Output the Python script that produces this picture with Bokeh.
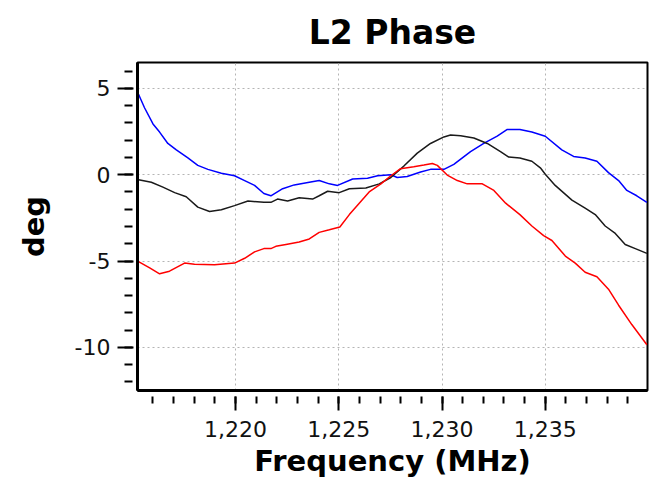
from bokeh.plotting import figure
from bokeh.models import Range1d, SingleIntervalTicker, NumeralTickFormatter
from bokeh.embed import file_html
from bokeh.resources import INLINE

# Frequency (MHz) / phase (deg) samples
blue_f = [1215.30, 1215.59, 1216.00, 1216.32, 1216.72, 1217.13, 1217.69, 1218.17, 1218.66, 1219.31,
          1219.95, 1220.44, 1220.92, 1221.37, 1221.71, 1222.28, 1222.84, 1223.57, 1224.05, 1224.54,
          1224.94, 1225.67, 1226.39, 1226.88, 1227.52, 1227.83, 1228.31, 1228.96, 1229.44, 1230.09,
          1230.57, 1231.38, 1232.02, 1232.67, 1233.16, 1233.77, 1234.35, 1235.00, 1235.80, 1236.37,
          1236.93, 1237.50, 1238.06, 1238.55, 1238.95, 1239.43, 1239.92]
blue_v = [4.66, 3.88, 2.94, 2.47, 1.81, 1.44, 0.97, 0.54, 0.31, 0.09,
          -0.06, -0.34, -0.62, -1.09, -1.22, -0.81, -0.59, -0.44, -0.34, -0.53,
          -0.62, -0.25, -0.21, -0.06, 0.00, -0.16, -0.10, 0.16, 0.31, 0.31,
          0.60, 1.34, 1.81, 2.23, 2.62, 2.62, 2.47, 2.23, 1.44, 1.06,
          0.97, 0.78, 0.12, -0.34, -0.91, -1.22, -1.60]

black_f = [1215.30, 1215.92, 1216.48, 1217.05, 1217.61, 1218.17, 1218.74, 1219.31, 1219.95, 1220.60,
           1221.37, 1221.71, 1222.03, 1222.52, 1223.08, 1223.73, 1224.05, 1224.46, 1225.02, 1225.51,
           1226.31, 1226.96, 1227.52, 1228.15, 1228.80, 1229.44, 1230.09, 1230.41, 1230.90, 1231.54,
           1232.19, 1232.83, 1233.23, 1233.77, 1234.35, 1234.76, 1235.00, 1235.48, 1236.29, 1236.93,
           1237.42, 1237.90, 1238.39, 1238.87, 1239.36, 1239.92]
black_v = [-0.29, -0.44, -0.72, -1.04, -1.28, -1.88, -2.13, -2.03, -1.79, -1.52,
           -1.60, -1.60, -1.41, -1.52, -1.34, -1.41, -1.22, -0.96, -1.04, -0.81,
           -0.77, -0.53, -0.16, 0.50, 1.25, 1.81, 2.19, 2.30, 2.26, 2.13,
           1.81, 1.34, 1.02, 0.97, 0.78, 0.40, 0.03, -0.62, -1.47, -1.93,
           -2.31, -2.97, -3.40, -4.04, -4.28, -4.56]

red_f = [1215.30, 1215.84, 1216.32, 1216.80, 1217.53, 1218.01, 1218.98, 1219.95, 1220.44, 1220.92,
         1221.37, 1221.71, 1221.95, 1222.44, 1223.08, 1223.57, 1224.05, 1224.54, 1225.05, 1225.51,
         1225.99, 1226.47, 1227.04, 1227.52, 1227.99, 1228.63, 1229.12, 1229.53, 1229.77, 1230.25,
         1230.74, 1231.22, 1231.95, 1232.51, 1233.08, 1233.77, 1234.35, 1234.92, 1235.32, 1235.97,
         1236.45, 1236.93, 1237.50, 1238.06, 1238.55, 1239.19, 1239.92]
red_v = [-5.03, -5.40, -5.74, -5.59, -5.12, -5.18, -5.22, -5.12, -4.84, -4.47,
         -4.28, -4.28, -4.15, -4.04, -3.90, -3.72, -3.34, -3.19, -3.03, -2.31,
         -1.65, -1.00, -0.53, -0.06, 0.35, 0.46, 0.56, 0.65, 0.54, -0.02,
         -0.34, -0.53, -0.53, -0.91, -1.65, -2.31, -2.97, -3.53, -3.81, -4.71,
         -5.12, -5.65, -5.91, -6.63, -7.56, -8.68, -9.85]

title_text = "L2 Phase"
x_label = "Frequency (MHz)"
y_label = "deg"

FONT = "DejaVu Sans"

p = figure(width=650, height=480, output_backend="svg", toolbar_location=None,
           x_range=Range1d(1215.25, 1239.95), y_range=Range1d(-12.5, 6.5),
           min_border_left=137, min_border_right=3, min_border_top=59, min_border_bottom=85,
           background_fill_color="white", border_fill_color="white")

p.title.text = title_text
p.title.align = "center"
p.title.text_font = FONT
p.title.text_font_size = "33px"
p.title.text_font_style = "bold"
p.title.text_color = "black"
p.title.standoff = 21

p.outline_line_color = "black"
p.outline_line_width = 2

p.xaxis.ticker = SingleIntervalTicker(interval=5, num_minor_ticks=5)
p.yaxis.ticker = SingleIntervalTicker(interval=5, num_minor_ticks=5)
p.xaxis.formatter = NumeralTickFormatter(format="0,0")
p.yaxis.formatter = NumeralTickFormatter(format="0")
p.xaxis.axis_label = x_label
p.yaxis.axis_label = y_label

for ax in (p.xaxis[0], p.yaxis[0]):
    ax.axis_line_color = "black"
    ax.axis_line_width = 3
    ax.major_tick_line_color = "black"
    ax.minor_tick_line_color = "black"
    ax.major_tick_line_width = 2
    ax.minor_tick_line_width = 2
    ax.major_label_text_font = FONT
    ax.major_label_text_font_size = "22px"
    ax.major_label_text_color = "#111111"
    ax.axis_label_text_font = FONT
    ax.axis_label_text_font_size = "29px"
    ax.axis_label_text_font_style = "bold"
    ax.axis_label_text_color = "black"

p.yaxis.major_tick_in = -4
p.yaxis.major_tick_out = 20
p.yaxis.minor_tick_in = -5
p.yaxis.minor_tick_out = 13
p.yaxis.major_label_standoff = 7
p.yaxis.axis_label_standoff = 21

p.xaxis.major_tick_in = -6
p.xaxis.major_tick_out = 20
p.xaxis.minor_tick_in = -6
p.xaxis.minor_tick_out = 13
p.xaxis.major_label_standoff = 10
p.xaxis.axis_label_standoff = 4

p.grid.grid_line_color = "#b4b4b4"
p.grid.grid_line_dash = "2 3"
p.grid.grid_line_width = 1

p.line(blue_f, blue_v, line_color="#0000ff", line_width=1.5)
p.line(black_f, black_v, line_color="#1a1a1a", line_width=1.5)
p.line(red_f, red_v, line_color="#ff0000", line_width=1.5)

open("out.html", "w").write(file_html(p, INLINE))
